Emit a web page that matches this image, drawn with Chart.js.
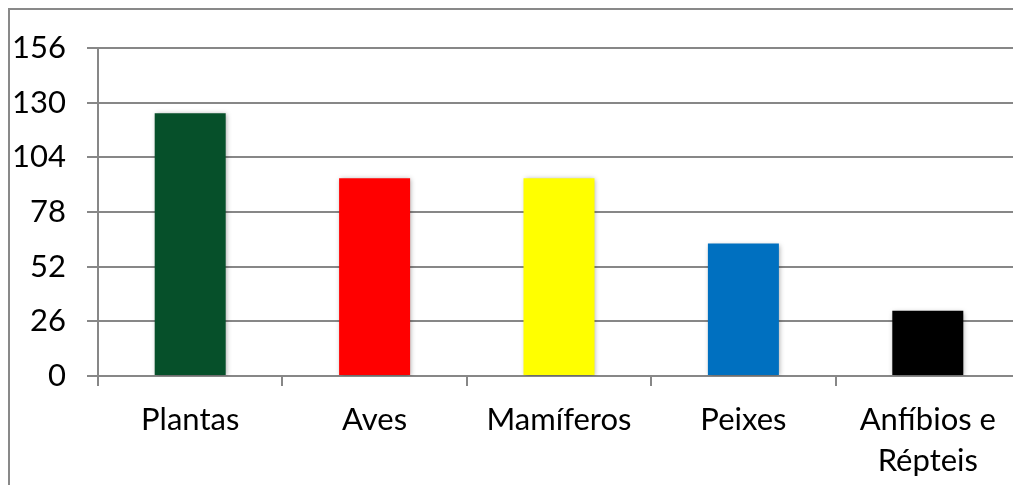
<!DOCTYPE html>
<html>
<head>
<meta charset="utf-8">
<script src="https://cdn.jsdelivr.net/npm/chart.js@4"></script>
<style>
    html, body { margin: 0; padding: 0; overflow: hidden; background: #fff; }
    #wrap { position: relative; width: 1030px; height: 485px; }
    #frame {
        position: absolute; left: 8px; top: 8px; width: 1040px; height: 520px;
        border: 2px solid #898989; box-sizing: border-box;
    }
    #chart { position: absolute; left: 0; top: 0; }
</style>
</head>
<body>
<div id="wrap">
    <div id="frame"></div>
    <canvas id="chart" width="1030" height="485"></canvas>
</div>
<script>
// Chart data
const categories = ['Plantas', 'Aves', 'Mamíferos', 'Peixes', ['Anfíbios e', 'Répteis']];
const values = [125, 94, 94, 63, 31];
const barColors = ['#06502a', '#ff0000', '#ffff00', '#0070c0', '#000000'];
const yTicks = [0, 26, 52, 78, 104, 130, 156];

(function() {
    'use strict';

    const gridColor = '#878787';
    const font = { family: 'Lato, "Open Sans", sans-serif', size: 31, lineHeight: 1.34 };

    // soft drop shadow behind the bars, like the office chart
    const barShadow = {
        id: 'barShadow',
        beforeDatasetsDraw(chart) {
            const ctx = chart.ctx;
            ctx.save();
            ctx.shadowColor = 'rgba(0, 0, 0, 0.35)';
            ctx.shadowBlur = 5;
            ctx.shadowOffsetX = 1;
            ctx.shadowOffsetY = 1;
        },
        afterDatasetsDraw(chart) {
            chart.ctx.restore();
        }
    };

    new Chart(document.getElementById('chart').getContext('2d'), {
        type: 'bar',
        data: {
            labels: categories,
            datasets: [{
                data: values,
                backgroundColor: barColors,
                borderWidth: 0,
                categoryPercentage: 1,
                barPercentage: 0.385
            }]
        },
        options: {
            responsive: false,
            animation: false,
            devicePixelRatio: 1,
            layout: { padding: { left: 0, top: 48, right: 10, bottom: 0 } },
            plugins: {
                legend: { display: false },
                tooltip: { enabled: false }
            },
            scales: {
                x: {
                    afterFit(axis) {
                        axis.height = 109;
                    },
                    grid: {
                        display: true,
                        offset: true,
                        drawOnChartArea: false,
                        drawTicks: true,
                        tickLength: 10,
                        color: gridColor,
                        lineWidth: 2
                    },
                    border: { display: true, color: gridColor, width: 2 },
                    ticks: {
                        color: '#000',
                        font: font,
                        padding: 13,
                        maxRotation: 0,
                        autoSkip: false
                    }
                },
                y: {
                    min: 0,
                    max: 156,
                    afterBuildTicks(axis) {
                        axis.ticks = yTicks.map(v => ({ value: v }));
                    },
                    afterFit(axis) {
                        axis.width = 98;
                    },
                    grid: {
                        color: gridColor,
                        lineWidth: 2,
                        drawTicks: true,
                        tickLength: 11
                    },
                    border: { display: true, color: gridColor, width: 2 },
                    ticks: {
                        color: '#000',
                        font: font,
                        padding: 21
                    }
                }
            }
        },
        plugins: [barShadow]
    });
})();
</script>
</body>
</html>
